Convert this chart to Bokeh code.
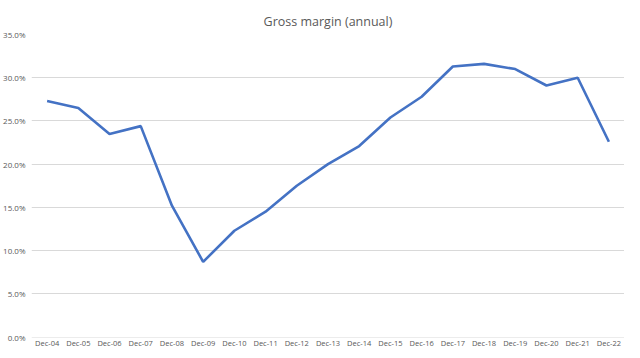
from bokeh.plotting import figure
from bokeh.models import Range1d, NumeralTickFormatter, FixedTicker
from bokeh.embed import file_html
from bokeh.resources import INLINE

categories = ["Dec-04", "Dec-05", "Dec-06", "Dec-07", "Dec-08", "Dec-09", "Dec-10",
              "Dec-11", "Dec-12", "Dec-13", "Dec-14", "Dec-15", "Dec-16", "Dec-17",
              "Dec-18", "Dec-19", "Dec-20", "Dec-21", "Dec-22"]
gross_margin = [0.273, 0.265, 0.235, 0.244, 0.152, 0.087, 0.123, 0.145, 0.175, 0.200,
                0.221, 0.254, 0.278, 0.313, 0.316, 0.310, 0.291, 0.300, 0.226]
y_ticks = [0.0, 0.05, 0.10, 0.15, 0.20, 0.25, 0.30, 0.35]

p = figure(width=624, height=350, x_range=categories, y_range=Range1d(-0.0005, 0.35),
           output_backend="svg", toolbar_location=None,
           title="Gross margin (annual)",
           min_border_left=27, min_border_right=0, min_border_top=34, min_border_bottom=0)

p.title.align = "center"
p.title.text_font = "Open Sans"
p.title.text_font_size = "12.5px"
p.title.text_font_style = "normal"
p.title.text_color = "#595959"
p.title.offset = 0

p.line(categories, gross_margin, line_color="#4472C4", line_width=2.6)

p.outline_line_color = None
p.background_fill_color = "white"
p.border_fill_color = "white"

p.xgrid.grid_line_color = None
p.ygrid.grid_line_color = "#D9D9D9"
p.ygrid.grid_line_width = 1
p.ygrid.ticker = FixedTicker(ticks=y_ticks)

p.yaxis.ticker = FixedTicker(ticks=y_ticks)
p.yaxis.formatter = NumeralTickFormatter(format="0.0%")
p.yaxis.axis_line_color = None
p.yaxis.major_tick_line_color = None
p.yaxis.minor_tick_line_color = None
p.yaxis.major_tick_out = 0
p.yaxis.major_tick_in = 0
p.yaxis.minor_tick_out = 0
p.yaxis.major_label_text_font = "Open Sans"
p.yaxis.major_label_text_font_size = "8px"
p.yaxis.major_label_text_color = "#595959"
p.yaxis.major_label_standoff = 6

p.xaxis.axis_line_color = None
p.xaxis.major_tick_line_color = None
p.xaxis.minor_tick_line_color = None
p.xaxis.major_tick_out = 0
p.xaxis.major_tick_in = 0
p.xaxis.minor_tick_out = 0
p.xaxis.major_label_text_font = "Open Sans"
p.xaxis.major_label_text_font_size = "7.5px"
p.xaxis.major_label_text_color = "#595959"
p.xaxis.major_label_standoff = 0
p.xaxis.axis_label = None

open("out.html", "w").write(file_html(p, INLINE))
